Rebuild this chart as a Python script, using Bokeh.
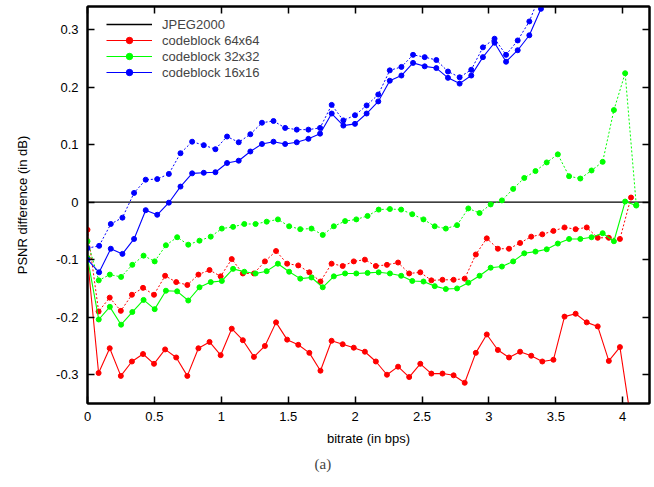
from bokeh.plotting import figure
from bokeh.models import Range1d, LinearAxis, FixedTicker, Legend, LegendItem, Title
from bokeh.embed import file_html
from bokeh.resources import INLINE

# Bitrates (bps) at which each codeblock configuration was evaluated
rate_64 = [0.000, 0.083, 0.166, 0.249, 0.332, 0.415, 0.497, 0.580, 0.663, 0.746,
           0.829, 0.912, 0.995, 1.078, 1.161, 1.244, 1.326, 1.409, 1.492, 1.575,
           1.658, 1.741, 1.824, 1.907, 1.990, 2.073, 2.155, 2.238, 2.321, 2.404,
           2.487, 2.570, 2.653, 2.736, 2.819, 2.902, 2.984, 3.067, 3.150, 3.233,
           3.316, 3.399, 3.482, 3.565, 3.648, 3.731, 3.813, 3.896, 3.979, 4.062]
rate_32 = [0.000, 0.084, 0.167, 0.251, 0.335, 0.419, 0.502, 0.586, 0.670, 0.753,
           0.837, 0.921, 1.004, 1.088, 1.172, 1.256, 1.339, 1.423, 1.507, 1.590,
           1.674, 1.758, 1.841, 1.925, 2.009, 2.093, 2.176, 2.260, 2.344, 2.427,
           2.511, 2.595, 2.678, 2.762, 2.846, 2.930, 3.013, 3.097, 3.181, 3.264,
           3.348, 3.432, 3.515, 3.599, 3.683, 3.767, 3.850, 3.934, 4.018, 4.101]
rate_16 = [0.000, 0.087, 0.174, 0.261, 0.348, 0.435, 0.521, 0.608, 0.695, 0.782,
           0.869, 0.956, 1.043, 1.130, 1.217, 1.304, 1.390, 1.477, 1.564, 1.651,
           1.738, 1.825, 1.912, 1.999, 2.086, 2.173, 2.259, 2.346, 2.433, 2.520,
           2.607, 2.694, 2.781, 2.868, 2.955, 3.042, 3.128, 3.215, 3.302, 3.389,
           3.476]

# PSNR difference to JPEG2000 (dB): first run (solid) and second run (dotted)
psnr_64_solid = [-0.097, -0.297, -0.254, -0.302, -0.277, -0.264, -0.281, -0.256, -0.270, -0.302,
                 -0.254, -0.243, -0.266, -0.220, -0.240, -0.269, -0.250, -0.209, -0.239, -0.248,
                 -0.262, -0.293, -0.241, -0.247, -0.253, -0.260, -0.277, -0.300, -0.286, -0.304,
                 -0.281, -0.298, -0.298, -0.301, -0.314, -0.262, -0.230, -0.257, -0.270, -0.260,
                 -0.267, -0.277, -0.274, -0.199, -0.194, -0.209, -0.216, -0.276, -0.252, -0.380]
psnr_64_dotted = [-0.048, -0.190, -0.166, -0.189, -0.161, -0.149, -0.161, -0.128, -0.139, -0.144,
                  -0.126, -0.118, -0.129, -0.099, -0.124, -0.124, -0.103, -0.085, -0.107, -0.110,
                  -0.122, -0.138, -0.107, -0.111, -0.103, -0.100, -0.111, -0.109, -0.105, -0.124,
                  -0.122, -0.136, -0.135, -0.135, -0.133, -0.091, -0.063, -0.081, -0.081, -0.071,
                  -0.060, -0.056, -0.050, -0.044, -0.047, -0.044, -0.062, -0.062, -0.064, 0.008]
psnr_32_solid = [-0.097, -0.204, -0.182, -0.213, -0.191, -0.170, -0.186, -0.154, -0.155, -0.171,
                 -0.148, -0.139, -0.137, -0.116, -0.121, -0.124, -0.120, -0.107, -0.121, -0.133,
                 -0.131, -0.148, -0.129, -0.124, -0.124, -0.123, -0.122, -0.124, -0.128, -0.137,
                 -0.138, -0.146, -0.151, -0.150, -0.140, -0.128, -0.114, -0.112, -0.103, -0.089,
                 -0.086, -0.082, -0.072, -0.064, -0.064, -0.061, -0.054, -0.068, 0.001, -0.006]
psnr_32_dotted = [-0.068, -0.136, -0.126, -0.130, -0.109, -0.093, -0.103, -0.075, -0.061, -0.074,
                  -0.067, -0.060, -0.046, -0.043, -0.038, -0.038, -0.034, -0.030, -0.042, -0.047,
                  -0.046, -0.057, -0.042, -0.033, -0.030, -0.024, -0.013, -0.012, -0.013, -0.021,
                  -0.030, -0.042, -0.046, -0.040, -0.011, -0.019, -0.004, 0.003, 0.023, 0.042,
                  0.054, 0.069, 0.083, 0.045, 0.041, 0.055, 0.070, 0.160, 0.224, -0.005]
psnr_16_solid = [-0.100, -0.122, -0.081, -0.090, -0.064, -0.014, -0.022, -0.001, 0.027, 0.050,
                 0.051, 0.052, 0.068, 0.072, 0.088, 0.101, 0.105, 0.101, 0.104, 0.110,
                 0.119, 0.154, 0.133, 0.136, 0.154, 0.175, 0.211, 0.220, 0.242, 0.236,
                 0.233, 0.216, 0.206, 0.220, 0.252, 0.277, 0.244, 0.264, 0.290, 0.336,
                 0.380]
psnr_16_dotted = [-0.080, -0.076, -0.038, -0.027, 0.016, 0.039, 0.040, 0.049, 0.085, 0.105,
                  0.099, 0.092, 0.114, 0.104, 0.118, 0.138, 0.141, 0.129, 0.126, 0.126,
                  0.129, 0.169, 0.142, 0.151, 0.168, 0.187, 0.229, 0.235, 0.256, 0.252,
                  0.247, 0.227, 0.217, 0.230, 0.269, 0.284, 0.256, 0.281, 0.314, 0.365]

# JPEG2000 reference: zero difference over the whole bitrate range
ref_rate = [0.0, 4.2]
ref_diff = [0.0, 0.0]

x_ticks = [0, 0.5, 1, 1.5, 2, 2.5, 3, 3.5, 4]
x_tick_labels = ["0", "0.5", "1", "1.5", "2", "2.5", "3", "3.5", "4"]
y_ticks = [-0.3, -0.2, -0.1, 0, 0.1, 0.2, 0.3]
y_tick_labels = ["-0.3", "-0.2", "-0.1", "0", "0.1", "0.2", "0.3"]

FONT = "Liberation Sans"

p = figure(width=654, height=487, output_backend="svg", toolbar_location=None,
           x_range=Range1d(0, 4.2), y_range=Range1d(-0.35, 0.34),
           min_border_left=87, min_border_right=5, min_border_top=6, min_border_bottom=84,
           background_fill_color="white", border_fill_color="white")
p.xgrid.visible = False
p.ygrid.visible = False
p.outline_line_color = "black"
p.outline_line_width = 2

bottom_axis = p.xaxis[0]
left_axis = p.yaxis[0]

bottom_axis.ticker = FixedTicker(ticks=x_ticks)
bottom_axis.major_label_overrides = dict(zip(x_ticks, x_tick_labels))
left_axis.ticker = FixedTicker(ticks=y_ticks)
left_axis.major_label_overrides = dict(zip(y_ticks, y_tick_labels))
bottom_axis.axis_label = "bitrate (in bps)"
left_axis.axis_label = "PSNR difference (in dB)"

# mirrored tick marks on the top and right edges, without labels
top_axis = LinearAxis(ticker=FixedTicker(ticks=x_ticks),
                      major_label_overrides={t: "" for t in x_ticks},
                      major_label_standoff=0)
right_axis = LinearAxis(ticker=FixedTicker(ticks=y_ticks),
                        major_label_overrides={t: "" for t in y_ticks},
                        major_label_standoff=0)
p.add_layout(top_axis, "above")
p.add_layout(right_axis, "right")

for ax in [bottom_axis, left_axis, top_axis, right_axis]:
    ax.axis_line_color = "black"
    ax.axis_line_width = 2
    ax.major_tick_in = 7
    ax.major_tick_out = 0
    ax.major_tick_line_width = 1.5
    ax.minor_tick_in = 0
    ax.minor_tick_out = 0
    ax.major_label_text_font = FONT
    ax.major_label_text_font_size = "13px"
    ax.major_label_text_color = "black"
    ax.axis_label_text_font = FONT
    ax.axis_label_text_font_style = "normal"
    ax.axis_label_text_font_size = "13px"
    ax.axis_label_text_color = "black"

bottom_axis.major_label_standoff = 8
bottom_axis.axis_label_standoff = 7
left_axis.major_label_standoff = 9
left_axis.axis_label_standoff = 23

# baseline
ref_line = p.line(ref_rate, ref_diff, line_color="black", line_width=1.3)

series = [
    ("codeblock 64x64", "#ff0000", rate_64, psnr_64_solid, psnr_64_dotted),
    ("codeblock 32x32", "#00ff00", rate_32, psnr_32_solid, psnr_32_dotted),
    ("codeblock 16x16", "#0000ff", rate_16, psnr_16_solid, psnr_16_dotted),
]

items = [LegendItem(label="JPEG2000", renderers=[ref_line])]
for label, color, rate, solid, dotted in series:
    n_dot = len(dotted)
    p.line(rate[:n_dot], dotted, line_color=color, line_width=1, line_dash="2 2")
    p.scatter(rate[:n_dot], dotted, size=5, color=color)
    ln = p.line(rate[:len(solid)], solid, line_color=color, line_width=1.1)
    sc = p.scatter(rate[:len(solid)], solid, size=5, color=color)
    items.append(LegendItem(label=label, renderers=[ln, sc]))

legend = Legend(items=items, location=(14, 318), margin=0, padding=5, spacing=-1,
                label_height=16, glyph_height=16, glyph_width=46, label_standoff=10,
                label_text_font=FONT, label_text_font_size="13px",
                border_line_alpha=0, background_fill_alpha=0)
p.add_layout(legend)

caption = Title(text="(a)", align="left", offset=227, text_font="Liberation Serif",
                text_font_size="15px", text_font_style="normal")
p.add_layout(caption, "below")

open("out.html", "w").write(file_html(p, INLINE))
